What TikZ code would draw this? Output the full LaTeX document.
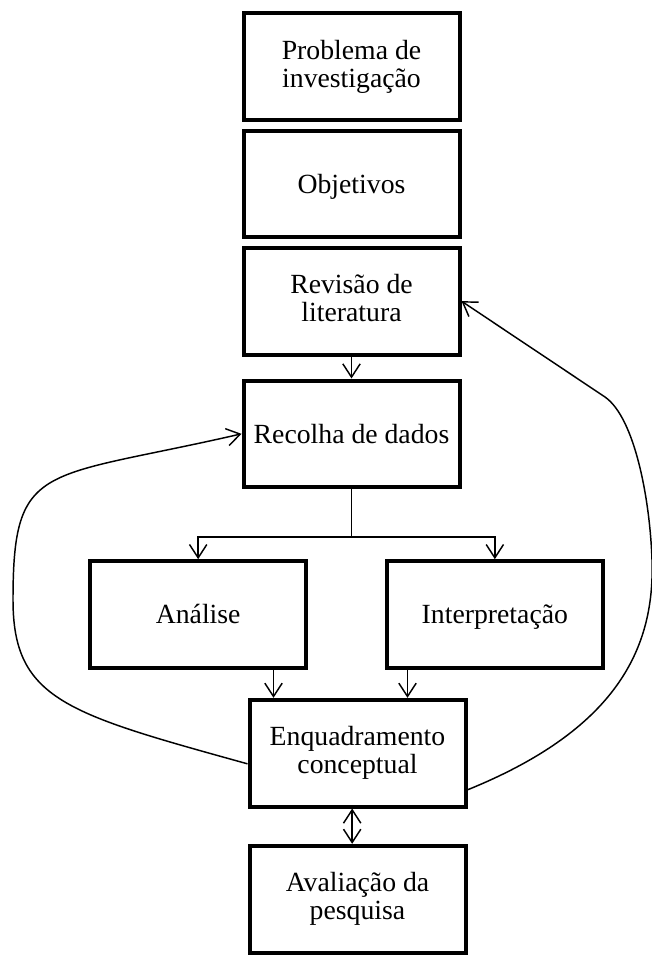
\documentclass[tikz,border=0pt]{standalone}
\usepackage{fontspec}
\setmainfont{Liberation Serif}
\usetikzlibrary{arrows.meta,calc,positioning}
\tikzstyle{line} = [draw, line width=1.1pt, ->]
\newcommand{\linestrut}{\rule[-4.5pt]{0pt}{23pt}}

\begin{document}
\begin{tikzpicture}[
            x = 0.75pt, y = -0.75pt, % one unit = one pixel of the scan, y down
            > = {Straight Barb[length=10pt, width=13pt]}, % open arrow head
            node distance = 88pt, % distance between boxes
            line width = 1.1pt
        ]

        \tikzstyle{stage}=[
            draw = black,
            line width = 3pt,
            rectangle,
            align = center,
            minimum width = 162pt,
            minimum height = 80pt,
            font = \fontsize{20.8pt}{21pt}\selectfont,
            execute at begin node = \linestrut,
            execute at end node = \linestrut
        ]

        \useasboundingbox (0,0) rectangle (652,956);

        \node[stage] (prob) at (351.5,66.5) {Problema de\\investigação};
        \node[stage] (obj) [below of=prob] {Objetivos};
        \node[stage] (rev) [below of=obj] {Revisão de\\literatura};
        \node[stage] (rec) [below of=rev, node distance=99.5pt] {Recolha de dados};
        \node[stage] (ana) [below of=rec, node distance=135.5pt, xshift=-115pt] {Análise};
        \node[stage] (int) [right of=ana, node distance=222.5pt] {Interpretação};
        \node[stage] (enq) [below of=rec, node distance=239.5pt, xshift=4.5pt] {Enquadramento\\conceptual};
        \node[stage] (aval) [below of=enq, node distance=109.5pt] {Avaliação da\\pesquisa};

        \coordinate (split) at ($(rec.south)+(0,48)$);
        \coordinate (anaout) at ([xshift=-26pt]ana.south east);
        \coordinate (intout) at ([xshift=17pt]int.south west);
        \coordinate (leftturn) at (13,600);
        \coordinate (rightturn) at (652,560);

        \draw[line] (rev) -- (rec);
        \draw[line] (rec.south) -- (split) -| (ana);
        \draw[line] (split) -| (int);
        \draw[line] (anaout) -- (anaout |- enq.north);
        \draw[line] (intout) -- (intout |- enq.north);
        \draw[<->] ([xshift=-4pt]enq.south) -- ([xshift=-4pt]aval.north);

        % feedback loops
        \draw[line] ([yshift=-8pt]enq.west) .. controls +(-180,-50) and +(0,100) .. (leftturn)
            .. controls +(0,-140) and +(-200,46) .. (rec.west);
        \draw[line] ([yshift=-27.5pt]enq.east) .. controls (615,730) and (655,650) .. (rightturn)
            .. controls (650,500) and (635,418) .. (605,397) -- (rev.east);

    \end{tikzpicture}
\end{document}
